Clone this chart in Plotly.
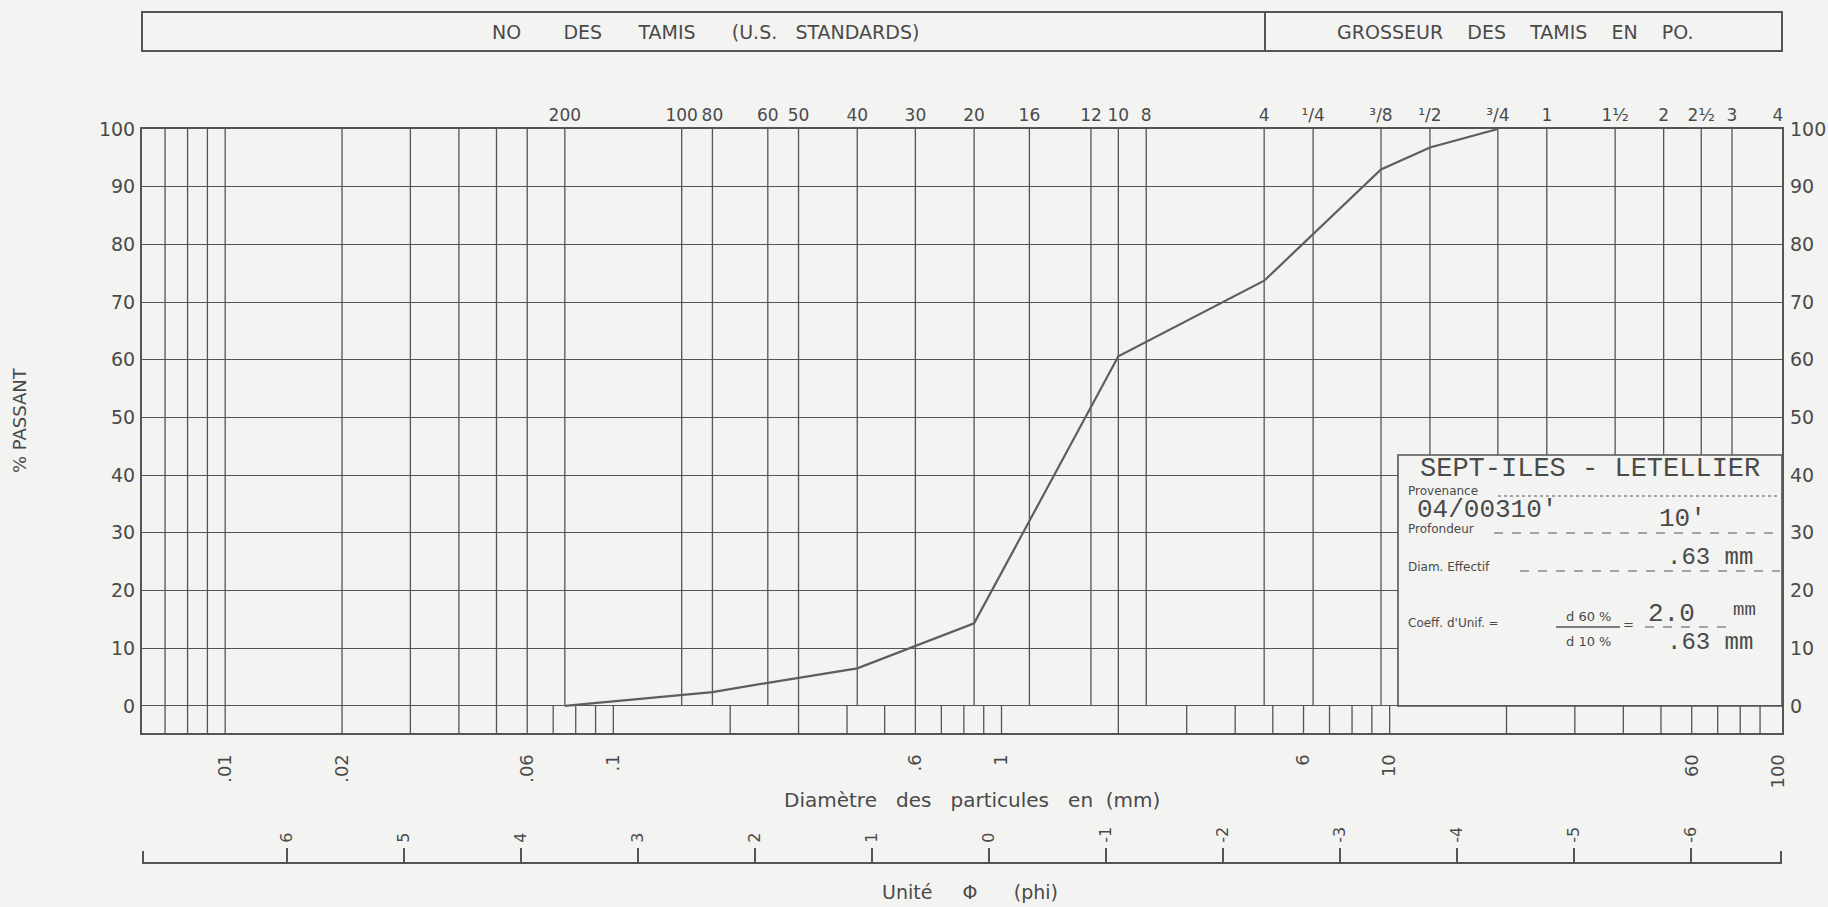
import plotly.graph_objects as go

# ---------------- data ----------------
sieve_labels = ["200", "100", "80", "60", "50", "40", "30", "20", "16", "12", "10", "8",
                "4", "¹/4", "³/8", "¹/2", "³/4", "1", "1½", "2", "2½", "3", "4"]
sieve_mm = [0.075, 0.150, 0.180, 0.250, 0.300, 0.425, 0.600, 0.850, 1.18, 1.70, 2.00, 2.36,
            4.75, 6.35, 9.5, 12.7, 19.0, 25.4, 38.1, 50.8, 63.5, 76.2, 100.0]

fine_mm = [0.007, 0.008, 0.009, 0.01, 0.02, 0.03, 0.04, 0.05, 0.06]
strip_mm = [0.07, 0.08, 0.09, 0.1, 0.2, 0.3, 0.4, 0.5, 0.6, 0.7, 0.8, 0.9,
            1, 2, 3, 4, 5, 6, 7, 8, 9, 10, 20, 30, 40, 50, 60, 70, 80, 90]

mm_tick_vals = [0.01, 0.02, 0.06, 0.1, 0.6, 1, 6, 10, 60, 100]
mm_tick_text = [".01", ".02", ".06", ".1", ".6", "1", "6", "10", "60", "100"]

phi_vals = [6, 5, 4, 3, 2, 1, 0, -1, -2, -3, -4, -5, -6]
phi_text = ["6", "5", "4", "3", "2", "1", "0", "-1", "-2", "-3", "-4", "-5", "-6"]

pct_ticks = [0, 10, 20, 30, 40, 50, 60, 70, 80, 90, 100]

curve_mm = [0.075, 0.180, 0.250, 0.425, 0.850, 2.00, 4.75, 9.5, 12.7, 19.0]
curve_pct = [0.0, 2.4, 4.0, 6.5, 14.3, 60.6, 73.7, 93.0, 96.8, 100.0]

# ---------------- geometry / style ----------------
W, H = 1828, 907
L, R = 142, 1782          # plot area left/right (px)
T, B = 129, 887           # plot area top/bottom (px)
Y_STRIP_BOTTOM = 733      # px of bottom of lower strip
Y_PHI = 863               # px of phi axis line
XR = [-2.2143, 2.0108]    # log10(mm) range
PHI_R = [7.237, -6.782]
YR = [-4.7, 100]

BG = "#f3f3f1"
INK = "#555555"
TXT = "#4a4a4a"
SANS = "DejaVu Sans, Verdana, sans-serif"
MONO = "Liberation Mono, Courier New, monospace"


def fx(px):
    return (px - L) / (R - L)


def fy(py):
    return (B - py) / (B - T)


def vlines(xs, y0, y1):
    X, Y = [], []
    for v in xs:
        X += [v, v, None]
        Y += [y0, y1, None]
    return X, Y


fig = go.Figure()

grid_style = dict(color=INK, width=1.3)
# sieve lines (upper area only, except the right border)
X, Y = vlines(sieve_mm[:-1], 0, 100)
fig.add_trace(go.Scatter(x=X, y=Y, mode="lines", line=grid_style, hoverinfo="skip", showlegend=False))
# fine lines spanning both areas
X, Y = vlines(fine_mm, YR[0], 100)
fig.add_trace(go.Scatter(x=X, y=Y, mode="lines", line=grid_style, hoverinfo="skip", showlegend=False))
# lower strip mm scale
X, Y = vlines(strip_mm, YR[0], 0)
fig.add_trace(go.Scatter(x=X, y=Y, mode="lines", line=grid_style, hoverinfo="skip", showlegend=False))

# grading curve
fig.add_trace(go.Scatter(x=curve_mm, y=curve_pct, mode="lines",
                         line=dict(color="#5e5e5e", width=2.2), showlegend=False))

# dummy traces to activate secondary axes
fig.add_trace(go.Scatter(x=[1], y=[50], xaxis="x2", yaxis="y", mode="markers",
                         marker=dict(opacity=0), showlegend=False, hoverinfo="skip"))
fig.add_trace(go.Scatter(x=[0], y=[50], xaxis="x3", yaxis="y", mode="markers",
                         marker=dict(opacity=0), showlegend=False, hoverinfo="skip"))
fig.add_trace(go.Scatter(x=[1], y=[50], xaxis="x", yaxis="y2", mode="markers",
                         marker=dict(opacity=0), showlegend=False, hoverinfo="skip"))

y_dom = [fy(Y_STRIP_BOTTOM), 1.0]

fig.update_layout(
    width=W, height=H,
    margin=dict(l=L, r=W - R, t=T, b=H - B, pad=0, autoexpand=False),
    paper_bgcolor=BG, plot_bgcolor=BG,
    font=dict(family=SANS, color=TXT),
    xaxis=dict(type="log", range=XR, tickvals=mm_tick_vals, ticktext=mm_tick_text,
               tickangle=-90, ticks="", ticklabelstandoff=12, automargin=False,
               tickfont=dict(size=18, family=SANS, color=TXT),
               showgrid=False, zeroline=False, showline=True, linecolor=INK,
               linewidth=2, mirror=True, anchor="y"),
    xaxis2=dict(type="log", range=XR, overlaying="x", side="top", anchor="y",
                tickvals=sieve_mm, ticktext=sieve_labels, ticks="", tickangle=0,
                automargin=False,
                ticklabelstandoff=4, tickfont=dict(size=17, family=SANS, color=TXT),
                showgrid=False, zeroline=False, showline=False),
    xaxis3=dict(range=PHI_R, overlaying="x", side="top", anchor="free",
                position=fy(Y_PHI), automargin=False,
                tickvals=phi_vals, ticktext=phi_text,
                tickangle=-90, ticks="outside", ticklen=14, tickwidth=2, tickcolor=INK,
                ticklabelstandoff=2, tickfont=dict(size=16, family=SANS, color=TXT),
                showgrid=False, zeroline=False, showline=True, linecolor=INK, linewidth=2),
    yaxis=dict(range=YR, domain=y_dom, tickvals=pct_ticks, ticks="", automargin=False,
               ticklabelstandoff=1, tickfont=dict(size=19, family=SANS, color=TXT),
               showgrid=True, gridcolor=INK, gridwidth=1.3, zeroline=False,
               showline=True, linecolor=INK, linewidth=2, mirror=True),
    yaxis2=dict(range=YR, domain=y_dom, overlaying="y", side="right", anchor="x",
                tickvals=pct_ticks, ticks="", ticklabelstandoff=7, automargin=False,
                tickfont=dict(size=19, family=SANS, color=TXT),
                showgrid=False, zeroline=False, showline=False),
)

shapes = []
annotations = []

# ---- end ticks of the phi scale ----
for xe in (L + 1, R - 1):
    shapes.append(dict(type="line", xref="paper", yref="paper", x0=fx(xe), x1=fx(xe),
                       y0=fy(Y_PHI), y1=fy(Y_PHI - 12), line=dict(color=INK, width=2)))

NB = "\u00a0"


def sp(n):
    return NB * n


def txt(x, y, s, size, fam, anchor="left", angle=0):
    annotations.append(dict(xref="paper", yref="paper", x=fx(x), y=fy(y), text=s,
                            xanchor=anchor, yanchor="middle", showarrow=False,
                            textangle=angle, font=dict(size=size, family=fam, color=TXT)))


def hline(x0, x1, y, dash="solid", width=1.2):
    shapes.append(dict(type="line", xref="paper", yref="paper", x0=fx(x0), x1=fx(x1),
                       y0=fy(y), y1=fy(y), line=dict(color=INK, width=width, dash=dash),
                       layer="above"))


# ---- header box ----
shapes.append(dict(type="rect", xref="paper", yref="paper", x0=0, x1=1,
                   y0=fy(51), y1=fy(12), line=dict(color=INK, width=2), fillcolor="rgba(0,0,0,0)"))
shapes.append(dict(type="line", xref="paper", yref="paper", x0=fx(1265), x1=fx(1265),
                   y0=fy(51), y1=fy(12), line=dict(color=INK, width=2)))
txt(705, 32, f"NO{sp(7)}DES{sp(6)}TAMIS{sp(6)}(U.S.{sp(3)}STANDARDS)", 19, SANS, "center")
txt(1515, 32, f"GROSSEUR{sp(4)}DES{sp(4)}TAMIS{sp(4)}EN{sp(4)}PO.", 19, SANS, "center")

# ---- axis titles ----
txt(972, 800, f"Diamètre{sp(3)}des{sp(3)}particules{sp(3)}en{sp(2)}(mm)", 20, SANS, "center")
txt(970, 892, f"Unité{sp(5)}Φ{sp(6)}(phi)", 19, SANS, "center")
txt(19, 420, "%\u00a0PASSANT", 18, SANS, "center", -90)

# ---- info box ----
box_top_pct = 43.5
shapes.append(dict(type="rect", xref="paper", yref="y", x0=fx(1398), x1=1.0,
                   y0=0, y1=box_top_pct, line=dict(color=INK, width=1.6),
                   fillcolor=BG, layer="above"))

txt(1590, 469, "SEPT-ILES - LETELLIER", 27, MONO, "center")
txt(1406, 491, "Provenance", 12, SANS)
hline(1498, 1778, 496, "dot")
txt(1415, 510, "04/00310'", 26, MONO)
txt(1406, 529, "Profondeur", 12, SANS)
txt(1682, 519, "10'", 26, MONO, "center")
hline(1494, 1778, 533, "dash")
txt(1710, 557, ".63 mm", 24, MONO, "center")
txt(1406, 567, "Diam. Effectif", 12, SANS)
hline(1520, 1780, 571, "dash")
txt(1406, 623, "Coeff. d'Unif. =", 12, SANS)
txt(1588, 616, "d 60 %", 13, SANS, "center")
hline(1556, 1620, 627, "solid", 1.5)
txt(1588, 641, "d 10 %", 13, SANS, "center")
txt(1628, 624, "=", 13, SANS, "center")
txt(1671, 614, "2.0", 26, MONO, "center")
txt(1744, 610, "mm", 19, MONO, "center")
hline(1645, 1732, 627, "dash")
txt(1710, 642, ".63 mm", 24, MONO, "center")

fig.update_layout(shapes=shapes, annotations=annotations)

fig.write_html("out.html",
               config={"displayModeBar": False},
               post_script="document.body.style.margin='0';"
                           "document.body.style.background='" + BG + "';")
